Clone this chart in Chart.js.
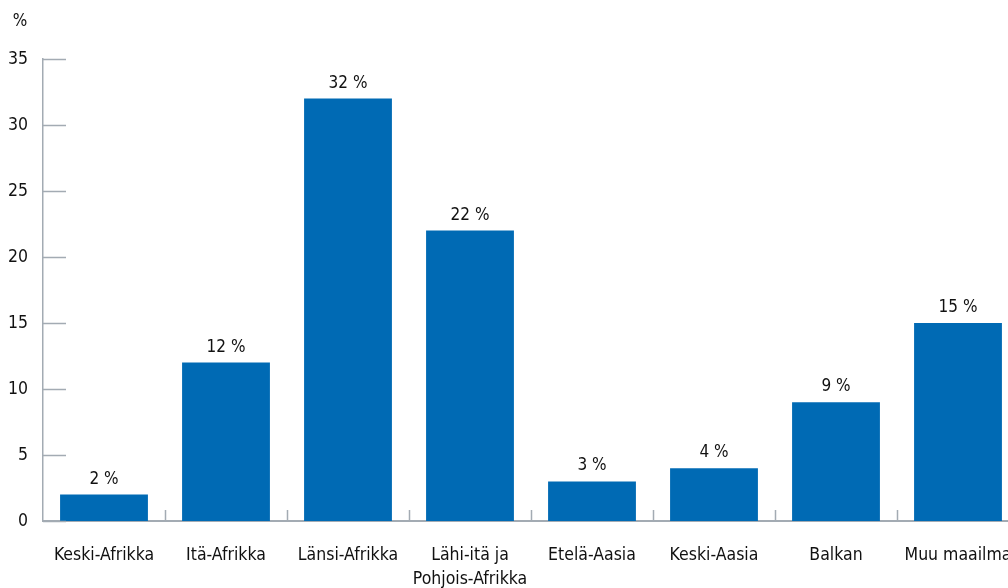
<!DOCTYPE html>
<html>
<head>
<meta charset="utf-8">
<script src="https://cdn.jsdelivr.net/npm/chart.js@4"></script>
<style>
  html, body { margin: 0; padding: 0; background: #fff; overflow: hidden; }
  #chart { position: absolute; left: 0; top: 0; }
</style>
</head>
<body>
<canvas id="chart" width="1030" height="588"></canvas>
<script>
// Alueet ja osuudet (%)
const regions = [
    'Keski-Afrikka',
    'Itä-Afrikka',
    'Länsi-Afrikka',
    ['Lähi-itä ja', 'Pohjois-Afrikka'],
    'Etelä-Aasia',
    'Keski-Aasia',
    'Balkan',
    'Muu maailma'
];
const shares = [2, 12, 32, 22, 3, 4, 9, 15];
const yTicks = [0, 5, 10, 15, 20, 25, 30, 35];
const unitLabel = '%';

const FONT = "'DejaVu Sans Condensed', 'Liberation Sans Narrow', sans-serif";
const TEXT = '#111111';
const AXIS = '#a3abb3';
const BAR = '#006ab4';

// value labels above bars, "%" unit, inward tick marks
const decorations = {
    id: 'decorations',
    afterDraw(chart) {
        const { ctx, chartArea, scales } = chart;
        const x = scales.x, y = scales.y;
        ctx.save();
        ctx.strokeStyle = AXIS;
        ctx.lineWidth = 1.5;
        ctx.beginPath();
        yTicks.forEach(v => {
            const py = Math.round(y.getPixelForValue(v)) + 0.5;
            ctx.moveTo(chartArea.left, py);
            ctx.lineTo(chartArea.left + 23, py);
        });
        const step = x.getPixelForValue(1) - x.getPixelForValue(0);
        for (let i = 1; i < regions.length; i++) {
            const px = Math.round(x.getPixelForValue(i) - step / 2) + 0.5;
            ctx.moveTo(px, chartArea.bottom);
            ctx.lineTo(px, chartArea.bottom - 11);
        }
        ctx.stroke();

        ctx.fillStyle = TEXT;
        ctx.font = '17px ' + FONT;
        ctx.textAlign = 'center';
        ctx.textBaseline = 'alphabetic';
        chart.getDatasetMeta(0).data.forEach((bar, i) => {
            ctx.fillText(shares[i] + ' %', bar.x, bar.y - 11);
        });
        ctx.fillText(unitLabel, 20, 26);
        ctx.restore();
    }
};

new Chart(document.getElementById('chart'), {
    type: 'bar',
    data: {
        labels: regions,
        datasets: [{
            data: shares,
            backgroundColor: BAR,
            categoryPercentage: 1,
            barPercentage: 0.72
        }]
    },
    options: {
        responsive: false,
        animation: false,
        layout: { padding: { top: 59, right: 11, left: 0, bottom: 0 } },
        plugins: {
            legend: { display: false },
            tooltip: { enabled: false }
        },
        scales: {
            x: {
                grid: { display: false, drawTicks: false },
                border: { display: true, color: AXIS, width: 2 },
                ticks: {
                    color: TEXT,
                    font: { family: FONT, size: 17.5, lineHeight: 1.37 },
                    padding: 22,
                    autoSkip: false,
                    maxRotation: 0
                },
                afterFit(scale) {
                    scale.height = 67;
                    scale.paddingLeft = 0;
                    scale.paddingRight = 0;
                }
            },
            y: {
                min: 0,
                max: 35,
                grid: { display: false, drawTicks: false },
                border: { display: true, color: AXIS, width: 1.5 },
                ticks: {
                    stepSize: 5,
                    color: TEXT,
                    font: { family: FONT, size: 17.5 },
                    padding: 15
                },
                afterFit(scale) { scale.width = 43; }
            }
        }
    },
    plugins: [decorations]
});
</script>
</body>
</html>
